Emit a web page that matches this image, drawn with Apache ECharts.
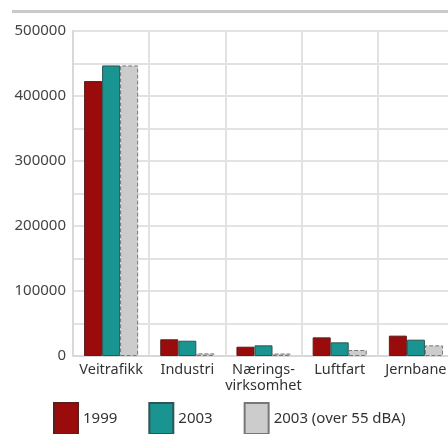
<!DOCTYPE html>
<html>
<head>
<meta charset="utf-8">
<script src="https://cdn.jsdelivr.net/npm/echarts@6/dist/echarts.min.js"></script>
<style>
  html, body { margin: 0; padding: 0; background: #fff; }
  #chart { width: 448px; height: 434px; }
</style>
</head>
<body>
<div id="chart"></div>
<script>
var categories = ['Veitrafikk', 'Industri', 'Nærings-\nvirksomhet', 'Luftfart', 'Jernbane']
var seriesNames = ['1999', '2003', '2003 (over 55 dBA)']
var values1999 = [423000, 25700, 14300, 28700, 31300]
var values2003 = [447000, 23500, 16400, 21000, 25100]
var values2003over55 = [447000, 4000, 3800, 9200, 16400]

var font = 'Noto Sans'
var myChart = echarts.init(document.getElementById('chart'))
myChart.setOption({
  animation: false,
  textStyle: { fontFamily: font },
  grid: { left: 73, right: -6, top: 31, bottom: 78, containLabel: false, outerBoundsMode: 'none' },
  legend: {
    left: 53, top: 402, icon: 'rect', padding: 0,
    itemWidth: 24, itemHeight: 31, itemGap: 31,
    textStyle: { fontSize: 15, color: '#333', fontFamily: font },
    data: seriesNames
  },
  graphic: [
    { type: 'rect', shape: { x: 12, y: 10, width: 440, height: 3 }, style: { fill: '#c9c9c9' } }
  ],
  xAxis: {
    type: 'category',
    data: categories,
    axisLine: { show: true, lineStyle: { color: '#d8d8d8', width: 2 } },
    axisTick: { show: false },
    splitLine: { show: true, lineStyle: { color: '#e2e2e2', width: 2 } },
    axisLabel: { interval: 0, fontSize: 14.5, color: '#333', lineHeight: 16, margin: 6 }
  },
  yAxis: {
    type: 'value',
    min: 0, max: 500000, interval: 50000,
    axisLine: { show: true, lineStyle: { color: '#d8d8d8', width: 2 } },
    axisTick: { show: false },
    splitLine: { lineStyle: { color: '#e2e2e2', width: 2 } },
    axisLabel: {
      fontSize: 15, color: '#444', margin: 7,
      formatter: function (v) { return v % 100000 === 0 ? String(v) : '' }
    }
  },
  series: [
    {
      name: seriesNames[0], type: 'bar', data: values1999,
      barGap: '0%', barCategoryGap: '29%',
      itemStyle: { color: '#9a0b0b', borderColor: '#5a2020', borderWidth: 1 }
    },
    {
      name: seriesNames[1], type: 'bar', data: values2003,
      itemStyle: { color: '#1a9490', borderColor: '#2d5553', borderWidth: 1 }
    },
    {
      name: seriesNames[2], type: 'bar', data: values2003over55,
      itemStyle: { color: '#cccccc', borderColor: '#777', borderWidth: 1, borderType: 'dashed' }
    }
  ]
})
</script>
</body>
</html>
